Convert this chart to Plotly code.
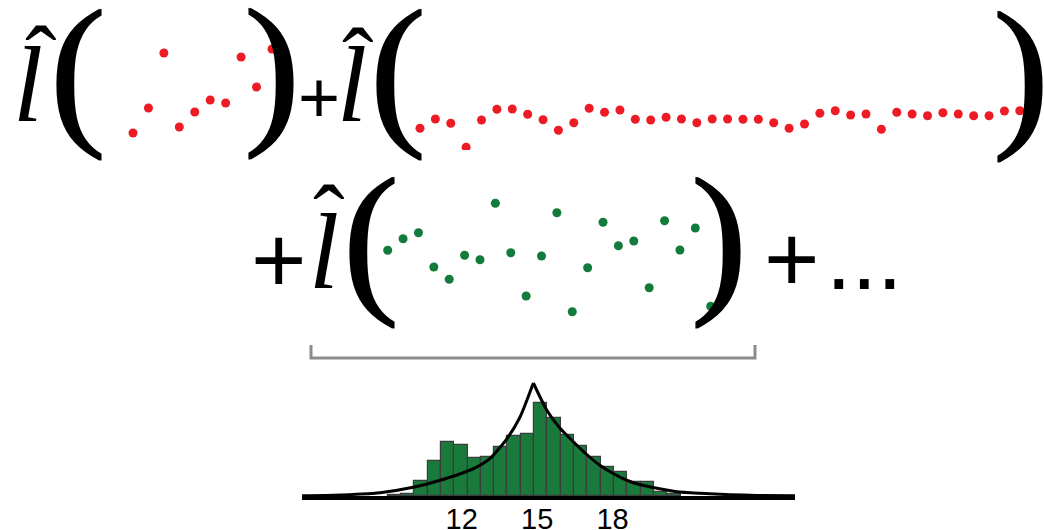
import plotly.graph_objects as go

W, H = 1044, 530

# ---------------- data ----------------
red_short = [1.7, 4.2, 9.7, 2.3, 3.8, 5.0, 4.7, 9.3, 6.3, 10.1]
red_long = [2.17, 3.10, 2.67, 0.27, 3.00, 4.07, 4.10, 3.57, 3.03, 1.97,
            2.73, 4.17, 3.77, 4.00, 3.07, 3.00, 3.27, 3.10, 2.73, 3.10,
            3.10, 3.07, 3.07, 2.73, 2.17, 2.60, 3.67, 3.93, 3.50, 3.60,
            2.07, 3.77, 3.60, 3.43, 3.73, 3.60, 3.43, 3.43, 3.90, 3.93]
green_pts = [6.97, 8.13, 8.73, 5.30, 4.07, 6.47, 6.03, 11.67, 6.73, 2.40, 6.40,
             10.73, 0.83, 5.23, 9.77, 7.43, 7.90, 3.23, 9.93, 7.00, 9.20, 1.37]

bin_centers = [9.32, 9.85, 10.38, 10.91, 11.44, 11.97, 12.50, 13.03, 13.55, 14.08, 14.61,
               15.14, 15.67, 16.20, 16.73, 17.26, 17.79, 18.32, 18.85, 19.38, 19.91, 20.44]
bin_counts = [1, 2, 15, 35, 54, 51, 38, 39, 49, 60, 62,
              93, 78, 61, 50, 39, 29, 24, 14, 14, 4, 2]

curve_left_x = [5.65, 6.90, 8.75, 10.07, 11.18, 12.49, 13.13, 13.81, 14.32, 14.85]
curve_left_y = [0.3, 0.8, 3.3, 8.7, 16.0, 27.7, 37.7, 57.7, 79.0, 113.0]
curve_right_x = [14.85, 15.38, 15.91, 16.44, 16.95, 17.48, 18.01, 18.54, 19.03, 19.56,
                 20.56, 21.48, 22.68, 23.75, 25.26]
curve_right_y = [113.0, 86.0, 67.7, 54.3, 42.0, 31.0, 22.7, 16.0, 11.7, 8.7,
                 4.3, 2.7, 1.3, 0.6, 0.3]

tick_vals = [12, 15, 18]
tick_text = ["12", "15", "18"]

# ---------------- styles ----------------
RED = "#ED1C24"
GREEN = "#127A3A"
BAR_GREEN = "#1A7A3C"
SERIF = "Liberation Serif"
SANS = "Liberation Sans"


def pxx(p):
    return p / W


def pxy(p):
    return 1 - p / H


fig = go.Figure()

# histogram bars
fig.add_trace(go.Bar(x=bin_centers, y=bin_counts, width=0.529,
                     marker=dict(color=BAR_GREEN, line=dict(color="#3c3c3c", width=1.2)),
                     xaxis="x", yaxis="y", hoverinfo="skip"))
# fitted curve (two halves around the cusp)
for cx, cy in ((curve_left_x, curve_left_y), (curve_right_x, curve_right_y)):
    fig.add_trace(go.Scatter(x=cx, y=cy, mode="lines",
                             line=dict(color="black", width=3, shape="spline", smoothing=0.6),
                             xaxis="x", yaxis="y", hoverinfo="skip"))

# dot series
fig.add_trace(go.Scatter(x=list(range(len(red_short))), y=red_short, mode="markers",
                         marker=dict(color=RED, size=9), xaxis="x2", yaxis="y2"))
fig.add_trace(go.Scatter(x=list(range(len(red_long))), y=red_long, mode="markers",
                         marker=dict(color=RED, size=9), xaxis="x3", yaxis="y3"))
fig.add_trace(go.Scatter(x=list(range(len(green_pts))), y=green_pts, mode="markers",
                         marker=dict(color=GREEN, size=9), xaxis="x4", yaxis="y4"))

hidden = dict(visible=False, fixedrange=True)

layout = dict(
    width=W, height=H,
    margin=dict(l=0, r=0, t=0, b=0, pad=0, autoexpand=False),
    paper_bgcolor="white", plot_bgcolor="rgba(0,0,0,0)",
    showlegend=False,
    bargap=0,
    xaxis=dict(domain=[pxx(302), pxx(795)], range=[5.645, 25.26], anchor="y",
               showline=True, linecolor="black", linewidth=3.5, showgrid=False,
               zeroline=False, tickvals=tick_vals, ticktext=tick_text, ticks="",
               ticklabelstandoff=-6,
               tickfont=dict(family=SANS, size=29, color="black"), fixedrange=True),
    yaxis=dict(domain=[pxy(496), pxy(370)], range=[0, 126], anchor="x",
               visible=False, fixedrange=True),
    xaxis2=dict(domain=[pxx(117.56), pxx(287.4)], range=[-1, 10], anchor="y2", **hidden),
    yaxis2=dict(domain=[pxy(150), pxy(40)], range=[0, 11], anchor="x2", **hidden),
    xaxis3=dict(domain=[pxx(404.62), pxx(1035.18)], range=[-1, 40], anchor="y3", **hidden),
    yaxis3=dict(domain=[pxy(150), pxy(40)], range=[0, 11], anchor="x3", **hidden),
    xaxis4=dict(domain=[pxx(372.32), pxx(726.08)], range=[-1, 22], anchor="y4", **hidden),
    yaxis4=dict(domain=[pxy(320), pxy(190)], range=[0, 13], anchor="x4", **hidden),
)
fig.update_layout(**layout)

THICK = "1px 0px 0px black, -1px 0px 0px black"


def ann(text, x, y, size, family, shadow=None):
    f = dict(family=family, size=size, color="black")
    if shadow:
        f["shadow"] = shadow
    return dict(text=text, x=pxx(x), y=pxy(y), xref="paper", yref="paper",
                xanchor="center", yanchor="middle", showarrow=False, font=f)


annotations = [
    # row 1
    ann("<i>l</i>", 28, 85, 108, SERIF),
    ann("\u02C6", 41, 60, 95, SERIF),
    ann("(", 78, 68, 168, SERIF, THICK),
    ann(")", 272, 67, 168, SERIF, THICK),
    ann("+", 319, 97, 72, SANS),
    ann("<i>l</i>", 352, 85, 108, SERIF),
    ann("\u02C6", 358, 62, 95, SERIF),
    ann("(", 398, 68, 168, SERIF, THICK),
    ann(")", 1021, 70, 168, SERIF, THICK),
    # row 2
    ann("+", 278, 259, 95, SANS),
    ann("<i>l</i>", 324, 251, 108, SERIF),
    ann("\u02C6", 329, 219, 95, SERIF),
    ann("(", 371, 236, 168, SERIF, THICK),
    ann(")", 719, 236, 168, SERIF, THICK),
    ann("+", 791, 258, 95, SANS),
    ann("...", 864, 257, 92, SANS),
]
fig.update_layout(annotations=annotations)

fig.add_shape(type="path",
              path=f"M {pxx(311)},{pxy(345)} L {pxx(311)},{pxy(358)} L {pxx(755)},{pxy(358)} L {pxx(755)},{pxy(345)}",
              xref="paper", yref="paper", line=dict(color="#8c8c8c", width=3))

fig.write_html("out.html", config={"displayModeBar": False},
               post_script="document.body.style.margin='0';document.body.style.overflow='hidden';")
